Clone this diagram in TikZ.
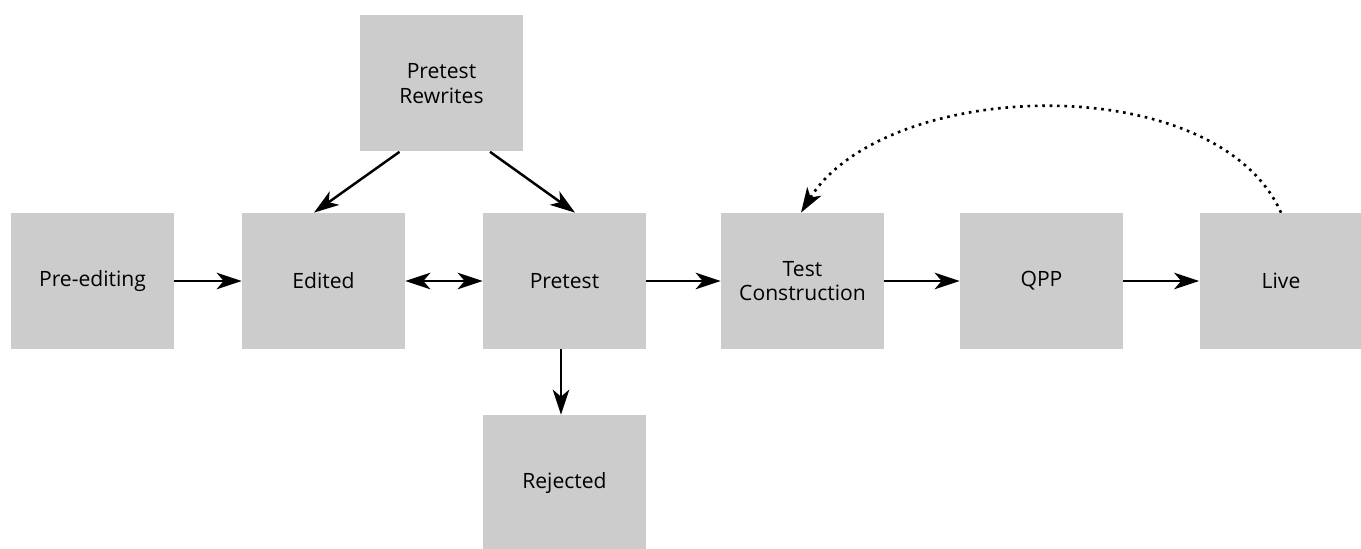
\documentclass[tikz,border=0pt]{standalone}
\usepackage{fontspec}
\setmainfont{Open Sans}
\usetikzlibrary{arrows.meta,positioning}
\tikzset{
    >={Stealth[length = 5mm, width = 3.3mm, inset = 1.4mm]},
    stage/.style = {fill = gray!40, minimum width = 3.26cm, minimum height = 2.72cm,
                    inner sep = 0pt, align = center, font = \large},
    flow/.style = {line width = 1.4pt, ->},
    twoway/.style = {line width = 1.4pt, <->},
    backflow/.style = {line width = 1.5pt, dash pattern = on 1.5pt off 2.7pt, ->}
}
\begin{document}
\begin{tikzpicture}
            \useasboundingbox (0,0) rectangle (27.22,10.98);
            % main row
            \node[stage] (pre) at (1.85,5.36) {Pre-editing};
            \node[stage] (ed) at (6.47,5.36) {Edited};
            \node[stage] (pt) at (11.29,5.36) {Pretest};
            \node[stage] (tc) at (16.05,5.36) {Test\\Construction};
            \node[stage] (qpp) at (20.83,5.36) {QPP};
            \node[stage] (live) at (25.62,5.36) {Live};
            % side boxes
            \node[stage] (rw) at (8.83,9.31) {Pretest\\Rewrites};
            \node[stage] (rj) at (11.29,1.32) {Rejected};
            % arrows
            \draw[style = flow] (pre) -- (ed);
            \draw[style = twoway] (ed) -- (pt);
            \draw[style = flow] (pt) -- (tc);
            \draw[style = flow] (tc) -- (qpp);
            \draw[style = flow] (qpp) -- (live);
            \draw[style = flow] ([xshift = -0.84cm]rw.south) -- ([xshift = -0.19cm]ed.north);
            \draw[style = flow] ([xshift = 0.97cm]rw.south) -- ([xshift = 0.21cm]pt.north);
            \draw[style = flow] ([xshift = -0.07cm]pt.south) -- ([xshift = -0.07cm]rj.north);
            \draw[style = backflow] (live.north) to[out = 114, in = 58, looseness = 0.85] ([xshift = -0.03cm]tc.north);
\end{tikzpicture}
\end{document}
